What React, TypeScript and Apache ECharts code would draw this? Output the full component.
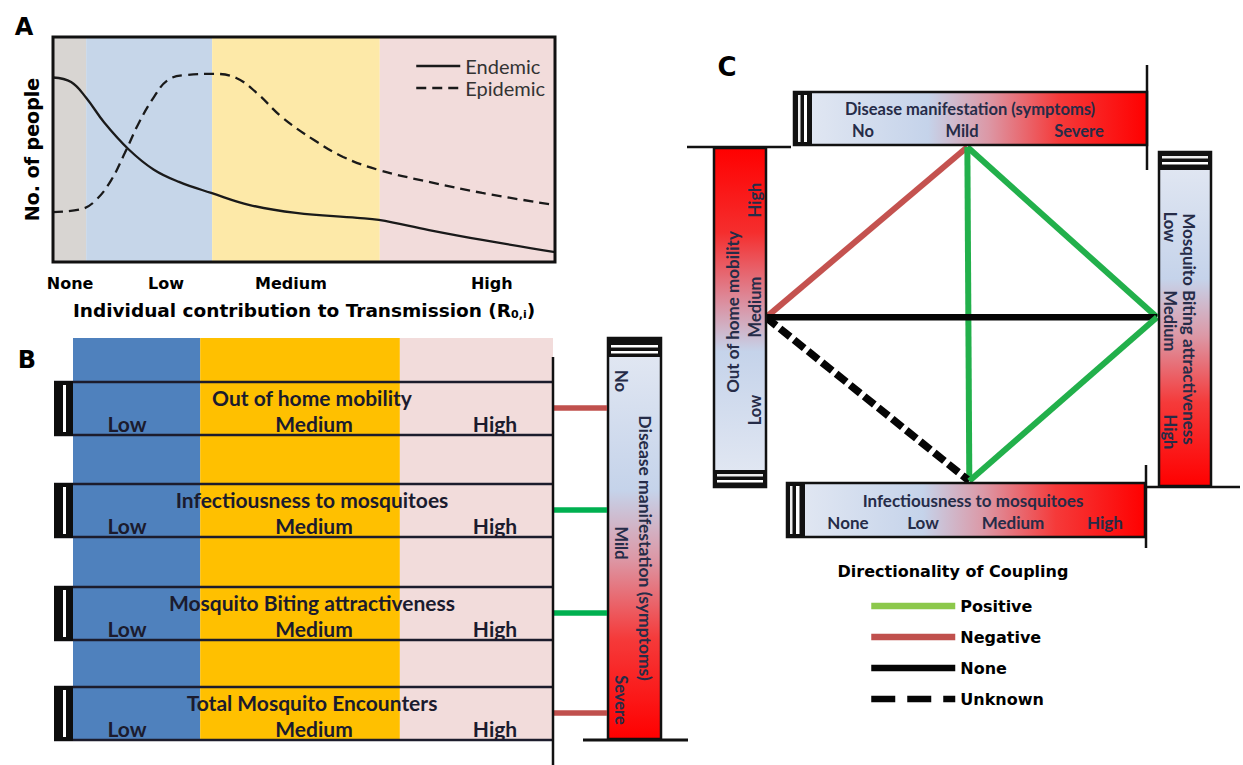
import React, { useEffect, useRef } from 'react';
import * as echarts from 'echarts';

// ---------------- Panel A data ----------------
const levelsA = ['None', 'Low', 'Medium', 'High'];
const levelTicksA = [3.4, 22.5, 47.4, 87.4];
const bandEdgesA = [0, 6.6, 31.7, 65.1, 100];
const endemicX = [0, 3.6, 6.6, 10.2, 15.1, 20.1, 25.1, 31.5, 39.2, 48.4, 60.6, 64.9, 74.9, 85.5, 100];
const endemicY = [82, 80, 73, 62, 50, 41, 35.6, 30.7, 25.3, 21.8, 19.6, 18.7, 14.2, 9.8, 4.4];
const epidemicX = [0, 5.8, 8.6, 11.6, 14.3, 17.1, 20.1, 22.9, 26.5, 32.1, 36.5, 40.6, 45.6, 52, 57.8, 64.9, 74.9, 85.5, 100];
const epidemicY = [22.2, 23.6, 27.6, 36.4, 48.4, 61.8, 73.3, 80.9, 83.1, 83.6, 81.8, 75.1, 64.4, 54.2, 46.7, 40.9, 35.6, 30.7, 25.3];
const seriesNamesA = ['Endemic', 'Epidemic'];

// ---------------- Panel B data ----------------
const traitsB = ['Out of home mobility', 'Infectiousness to mosquitoes', 'Mosquito Biting attractiveness', 'Total Mosquito Encounters'];
const levelsB = ['Low', 'Medium', 'High'];
const bandEdgesB = [0, 26.5, 68.1, 100];
const couplingB = ['Negative', 'Positive', 'Positive', 'Negative'];
const symptomLevels = ['No', 'Mild', 'Severe'];
const symptomTitle = 'Disease manifestation (symptoms)';

// ---------------- Panel C data ----------------
const nodeNames = ['Disease manifestation (symptoms)', 'Out of home mobility', 'Mosquito Biting attractiveness', 'Infectiousness to mosquitoes'];
const nodeX = [0.515, 0, 1, 0.52];
const nodeY = [1, 0.49, 0.49, 0];
const edgeFrom = [1, 0, 0, 1, 1, 2];
const edgeTo = [0, 2, 3, 2, 3, 3];
const edgeType = ['Negative', 'Positive', 'Positive', 'None', 'Unknown', 'Positive'];
const couplingTypes = ['Positive', 'Negative', 'None', 'Unknown'];
const mobilityLevels = ['Low', 'Medium', 'High'];
const bitingLevels = ['Low', 'Medium', 'High'];
const infectLevels = ['None', 'Low', 'Medium', 'High'];
const legendTitleC = 'Directionality of Coupling';

// ---------------- styles ----------------
const HEAVY = '"DejaVu Sans", sans-serif';
const CAL = 'Lato, "Open Sans", sans-serif';
const INK = '#1b1b2e';
const BARINK = '#262c48';
const bandColorsA = ['#d8d5d2', '#c6d6e9', '#fde9a8', '#f2dcdb'];
const bandColorsB = ['#4f81bd', '#ffc000', '#f2dcdb'];
const edgeColor: Record<string, string> = { Positive: '#22b04b', Negative: '#c4524f', None: '#050505', Unknown: '#050505' };
const edgeWidth: Record<string, number> = { Positive: 6, Negative: 6, None: 6.5, Unknown: 7.5 };
const legendColor: Record<string, string> = { Positive: '#8cc84b', Negative: '#c0504d', None: '#050505', Unknown: '#050505' };
const connectorColor: Record<string, string> = { Positive: '#00b050', Negative: '#c0504d' };

const lightToRed: [number, string][] = [[0, '#e4e9f3'], [0.38, '#c5d3ea'], [0.55, '#dc98a6'], [0.75, '#f53a3a'], [1, '#ff0000']];
const redToLight: [number, string][] = [[0, '#ff0000'], [0.25, '#f52e2e'], [0.45, '#dc8c9c'], [0.6, '#c5d3ea'], [1, '#e4e9f3']];

function grad(horizontal: boolean, stops: [number, string][]) {
  return new echarts.graphic.LinearGradient(0, 0, horizontal ? 1 : 0, horizontal ? 0 : 1,
    stops.map(([offset, color]) => ({ offset, color })));
}

function buildGraphic() {
  const els: any[] = [];
  const txt = (x: number, y: number, text: string, size: number, o: any = {}) => els.push({
    type: 'text', x, y, rotation: o.rot || 0, z: o.z ?? 60, silent: true,
    style: {
      text, fontSize: size, fontWeight: o.weight ?? 'bold', fontFamily: o.family ?? CAL, fill: o.fill ?? INK,
      textAlign: o.align ?? 'center', textVerticalAlign: 'middle', align: o.align ?? 'center', verticalAlign: 'middle',
    },
  });
  const rect = (x: number, y: number, w: number, h: number, style: any, z = 20) =>
    els.push({ type: 'rect', shape: { x, y, width: w, height: h }, style, z, silent: true });
  const ln = (x1: number, y1: number, x2: number, y2: number, stroke: string, lw: number, z = 30) =>
    els.push({ type: 'line', shape: { x1, y1, x2, y2 }, style: { stroke, lineWidth: lw }, z, silent: true });

  // Panel letters
  txt(24, 27, 'A', 24, { family: HEAVY, fill: '#000' });
  txt(27, 360, 'B', 24, { family: HEAVY, fill: '#000' });
  txt(727, 67, 'C', 26, { family: HEAVY, fill: '#000' });

  // Panel A frame
  rect(53, 37, 502, 225, { fill: 'none', stroke: '#111', lineWidth: 3 }, 40);

  // Panel B rows
  const rowTops = [382, 484, 587, 687];
  const rowH = 53;
  const levelXB = [127, 314, 495];
  traitsB.forEach((name, i) => {
    const t = rowTops[i];
    ln(54, t, 553, t, '#1c1c2c', 2.5);
    ln(54, t + rowH, 553, t + rowH, '#1c1c2c', 2.5);
    rect(54, t - 1, 19, rowH + 2, { fill: '#0d0d0d', stroke: 'none' }, 31);
    rect(63, t + 3, 3, rowH - 6, { fill: '#ffffff' }, 32);
    txt(312, t + 15, name, 21);
    levelsB.forEach((lv, j) => txt(levelXB[j], t + 41, lv, 21));
    ln(553, t + 26, 607, t + 26, connectorColor[couplingB[i]], 5.5, 25);
  });
  ln(553, 357, 553, 765, '#111', 2.5);

  // Panel B disease bar
  rect(608, 338, 53, 401, { fill: grad(false, lightToRed), stroke: '#111', lineWidth: 2.5 }, 20);
  rect(608, 338, 53, 19, { fill: '#111' }, 21);
  rect(611, 345, 47, 2.5, { fill: '#fff' }, 22);
  rect(611, 351, 47, 2.5, { fill: '#fff' }, 22);
  ln(583, 740, 688, 740, '#111', 3);
  const symYB = [381, 543, 700];
  symptomLevels.forEach((lv, j) => txt(621, symYB[j], lv, 16.5, { rot: -Math.PI / 2, fill: BARINK }));
  txt(645, 548, symptomTitle, 17.5, { rot: -Math.PI / 2, fill: BARINK });

  // Panel C top bar (symptoms)
  rect(794, 92, 353, 53, { fill: grad(true, lightToRed), stroke: '#111', lineWidth: 2.5 }, 20);
  rect(794, 92, 18, 53, { fill: '#111' }, 21);
  rect(798, 95, 2.5, 47, { fill: '#eee' }, 22);
  rect(804, 95, 3, 47, { fill: '#fff' }, 22);
  ln(1147, 65, 1147, 170, '#111', 2.5);
  txt(970, 109, symptomTitle, 16.5, { fill: BARINK });
  const symXC = [863, 962, 1079];
  symptomLevels.forEach((lv, j) => txt(symXC[j], 131, lv, 16.5, { fill: BARINK }));

  // Panel C left bar (mobility)
  ln(687, 147, 791, 147, '#111', 2.5);
  rect(714, 148, 52, 339, { fill: grad(false, redToLight), stroke: '#111', lineWidth: 2.5 }, 20);
  rect(714, 470, 52, 17, { fill: '#111' }, 21);
  rect(717, 474, 46, 2.5, { fill: '#eee' }, 22);
  rect(717, 480, 46, 2.5, { fill: '#fff' }, 22);
  txt(732, 312, traitsB[0], 17, { rot: Math.PI / 2, fill: BARINK });
  const mobY = [410, 307, 200];
  mobilityLevels.forEach((lv, j) => txt(755, mobY[j], lv, 16.5, { rot: Math.PI / 2, fill: BARINK }));

  // Panel C right bar (biting)
  rect(1159, 152, 52, 334, { fill: grad(false, lightToRed), stroke: '#111', lineWidth: 2.5 }, 20);
  rect(1159, 152, 52, 18, { fill: '#111' }, 21);
  rect(1162, 156, 46, 2.5, { fill: '#eee' }, 22);
  rect(1162, 162, 46, 2.5, { fill: '#fff' }, 22);
  ln(1145, 487, 1240, 487, '#111', 2.5);
  txt(1189, 329, traitsB[2], 17, { rot: -Math.PI / 2, fill: BARINK });
  const bitY = [227, 321, 432];
  bitingLevels.forEach((lv, j) => txt(1170, bitY[j], lv, 16.5, { rot: -Math.PI / 2, fill: BARINK }));

  // Panel C bottom bar (infectiousness)
  rect(787, 483, 358, 54, { fill: grad(true, lightToRed), stroke: '#111', lineWidth: 2.5 }, 20);
  rect(787, 483, 18, 54, { fill: '#111' }, 21);
  rect(790, 486, 2.5, 48, { fill: '#eee' }, 22);
  rect(796, 486, 3.5, 48, { fill: '#fff' }, 22);
  ln(1146, 465, 1146, 548, '#111', 2.5);
  txt(973, 500, traitsB[1], 17, { fill: BARINK });
  const infX = [848, 923, 1013, 1105];
  infectLevels.forEach((lv, j) => txt(infX[j], 522, lv, 17, { fill: BARINK }));

  // Panel C legend title
  txt(953, 571, legendTitleC, 16, { family: HEAVY, fill: '#000' });
  return els;
}

function buildOption() {
  const sub = { fontSize: 11, fontWeight: 'bold', fontFamily: HEAVY, color: '#000', padding: [9, 0, 0, 0] };
  const edgeSeries = edgeType.map((t, i) => ({
    name: t,
    type: 'line',
    xAxisIndex: 1,
    yAxisIndex: 1,
    symbol: 'none',
    silent: true,
    z: 3,
    data: [[nodeX[edgeFrom[i]], nodeY[edgeFrom[i]]], [nodeX[edgeTo[i]], nodeY[edgeTo[i]]]],
    lineStyle: { color: edgeColor[t], width: edgeWidth[t], type: t === 'Unknown' ? [13, 5] : 'solid' },
    itemStyle: { color: edgeColor[t] },
  }));
  return {
    animation: false,
    backgroundColor: '#ffffff',
    grid: [
      { left: 53, top: 37, width: 502, height: 225, show: false },
      { left: 766, top: 147, width: 391, height: 334, show: false },
      { left: 73, top: 338, width: 480, height: 401, show: false },
    ],
    xAxis: [
      {
        gridIndex: 0, type: 'value', min: 0, max: 100,
        axisLine: { show: false }, axisTick: { show: false }, splitLine: { show: false },
        axisLabel: {
          customValues: levelTicksA,
          formatter: (v: number) => {
            const k = levelTicksA.findIndex((p) => Math.abs(p - v) < 1e-6);
            return k >= 0 ? levelsA[k] : '';
          },
          margin: 13, fontFamily: HEAVY, fontWeight: 'bold', fontSize: 16, color: '#000',
        },
        name: 'Individual contribution to Transmission (R{sub|0,i})',
        nameLocation: 'middle', nameGap: 38,
        nameTextStyle: { fontFamily: HEAVY, fontWeight: 'bold', fontSize: 18.5, color: '#000', rich: { sub } },
      },
      { gridIndex: 1, type: 'value', min: 0, max: 1, show: false },
      { gridIndex: 2, type: 'value', min: 0, max: 100, show: false },
    ],
    yAxis: [
      {
        gridIndex: 0, type: 'value', min: 0, max: 100,
        axisLine: { show: false }, axisTick: { show: false }, splitLine: { show: false }, axisLabel: { show: false },
        name: 'No. of people', nameLocation: 'middle', nameGap: 12, nameRotate: 90,
        nameTextStyle: { fontFamily: HEAVY, fontWeight: 'bold', fontSize: 19, color: '#000' },
      },
      { gridIndex: 1, type: 'value', min: 0, max: 1, show: false },
      { gridIndex: 2, type: 'value', min: 0, max: 100, show: false },
    ],
    legend: [
      {
        data: seriesNamesA, orient: 'vertical', left: 410, top: 50, itemWidth: 44, itemHeight: 12, itemGap: 0,
        selectedMode: false,
        textStyle: { fontFamily: CAL, fontSize: 20, color: '#333', lineHeight: 22 },
        lineStyle: { width: 2.5 }, itemStyle: { opacity: 0 },
      },
      {
        data: couplingTypes.map((t) => ({
          name: t,
          lineStyle: { color: legendColor[t], width: 6.5, type: t === 'Unknown' ? [24, 12] : 'solid' },
        })),
        orient: 'vertical', left: 863, top: 591, itemWidth: 84, itemHeight: 10, itemGap: 11,
        selectedMode: false,
        textStyle: { fontFamily: HEAVY, fontWeight: 'bold', fontSize: 16, color: '#000', lineHeight: 20 },
        itemStyle: { opacity: 0 },
      },
    ],
    series: [
      {
        name: seriesNamesA[0], type: 'line', xAxisIndex: 0, yAxisIndex: 0, symbol: 'none', smooth: 0.4, silent: true, z: 3,
        data: endemicX.map((x, i) => [x, endemicY[i]]),
        lineStyle: { color: '#1a1a1a', width: 2.3 }, itemStyle: { color: '#1a1a1a' },
        markArea: {
          silent: true,
          data: bandColorsA.map((c, i) => [
            { xAxis: bandEdgesA[i], itemStyle: { color: c, opacity: 1 } },
            { xAxis: bandEdgesA[i + 1] },
          ]),
        },
      },
      {
        name: seriesNamesA[1], type: 'line', xAxisIndex: 0, yAxisIndex: 0, symbol: 'none', smooth: 0.4, silent: true, z: 3,
        data: epidemicX.map((x, i) => [x, epidemicY[i]]),
        lineStyle: { color: '#1a1a1a', width: 2.3, type: [10, 6] }, itemStyle: { color: '#1a1a1a' },
      },
      {
        name: 'levelsB', type: 'line', xAxisIndex: 2, yAxisIndex: 2, symbol: 'none', silent: true, data: [],
        markArea: {
          silent: true,
          data: bandColorsB.map((c, i) => [
            { xAxis: bandEdgesB[i], itemStyle: { color: c, opacity: 1 } },
            { xAxis: bandEdgesB[i + 1] },
          ]),
        },
      },
      ...edgeSeries,
    ],
    graphic: { elements: buildGraphic() },
  };
}

export default function App() {
  const ref = useRef<HTMLDivElement>(null);
  useEffect(() => {
    if (!ref.current) return;
    const chart = echarts.init(ref.current, null, { renderer: 'svg' });
    chart.setOption(buildOption() as any);
    return () => chart.dispose();
  }, []);
  return <div ref={ref} style={{ position: 'absolute', left: 0, top: 0, width: 1243, height: 765, background: '#fff' }} />;
}
